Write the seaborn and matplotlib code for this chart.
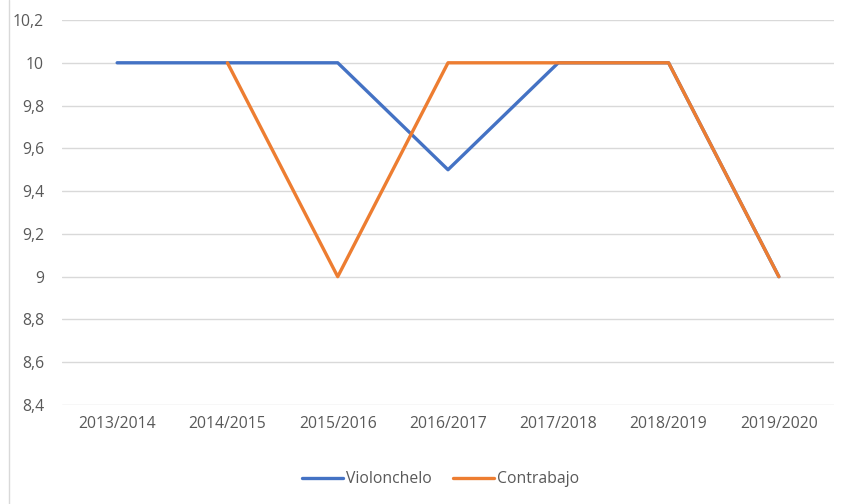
import numpy as np
import pandas as pd
import seaborn as sb
import matplotlib.pyplot as plt
from matplotlib.lines import Line2D
from matplotlib.ticker import FuncFormatter

# data
cursos = ['2013/2014', '2014/2015', '2015/2016', '2016/2017',
          '2017/2018', '2018/2019', '2019/2020']
violonchelo = [10, 10, 10, 9.5, 10, 10, 9]
contrabajo = [np.nan, 10, 9, 10, 10, 10, 9]
series_names = ['Violonchelo', 'Contrabajo']
colors = {'Violonchelo': '#4472C4', 'Contrabajo': '#ED7D31'}
yticks = [8.4, 8.6, 8.8, 9.0, 9.2, 9.4, 9.6, 9.8, 10.0, 10.2]

df = pd.DataFrame({'curso': cursos,
                   'Violonchelo': violonchelo,
                   'Contrabajo': contrabajo})
long = df.melt(id_vars='curso', var_name='serie', value_name='nota')

sb.set_style('white')
plt.rcParams['font.family'] = ['Open Sans', 'DejaVu Sans']

fig = plt.figure(figsize=(8.54, 5.04), dpi=100)
ax = fig.add_axes([0.0726, 0.1964, 0.9040, 0.7639])

sb.lineplot(data=long, x='curso', y='nota', hue='serie',
            hue_order=series_names, palette=colors,
            linewidth=2.4, sort=False, legend=False, ax=ax)

ax.set_xlim(-0.5, len(cursos) - 0.5)
ax.set_ylim(8.4, 10.2)
ax.set_yticks(yticks)
ax.yaxis.set_major_formatter(FuncFormatter(lambda v, p: f'{v:g}'.replace('.', ',')))
ax.grid(axis='y', color='#D9D9D9', linewidth=1)
ax.set_axisbelow(True)
for s in ax.spines.values():
    s.set_visible(False)
ax.tick_params(axis='both', length=0, labelsize=11.3, labelcolor='#595959')
ax.tick_params(axis='y', pad=13)
ax.tick_params(axis='x', pad=8)
ax.set_xlabel('')
ax.set_ylabel('')

handles = [Line2D([], [], color=colors[n], linewidth=2.4) for n in series_names]
fig.legend(handles, series_names, loc='center', bbox_to_anchor=(0.516, 0.049),
           ncol=2, frameon=False, fontsize=11.3, labelcolor='#595959',
           handlelength=2.6, handletextpad=0.2, columnspacing=1.4)

# chart-area border visible at the left edge
fig.add_artist(Line2D([9 / 854, 9 / 854], [0, 1], color='#D9D9D9', linewidth=1))

fig.savefig('out.png', dpi=100)
